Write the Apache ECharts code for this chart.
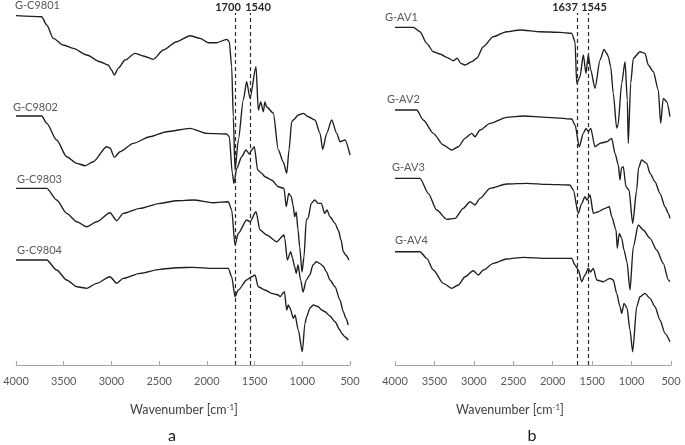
<!DOCTYPE html>
<html>
<head>
<meta charset="utf-8">
<script src="https://cdn.jsdelivr.net/npm/echarts@6/dist/echarts.min.js"></script>
<style>
html,body{margin:0;padding:0;background:#fff;}
#chart{width:685px;height:445px;}
</style>
</head>
<body>
<div id="chart"></div>
<script>
// ---- Data (wavenumber cm-1, relative transmittance incl. vertical offset) ----
const seriesNamesA = ['G-C9801', 'G-C9802', 'G-C9803', 'G-C9804'];
const seriesNamesB = ['G-AV1', 'G-AV2', 'G-AV3', 'G-AV4'];
const xTicks = [4000, 3500, 3000, 2500, 2000, 1500, 1000, 500];
const peakLabelsA = ['1700', '1540'];
const peakPosA = [1703, 1550];
const peakLabelsB = ['1637', '1545'];
const peakPosB = [1695, 1550];

const gC9801 = [[4000,349.3],[3731,348.3],[3678,340],[3609,326.7],[3504,320],[3400,316.7],[3259,310],[3120,303.3],[3033,300],[2999,295],[2970,290],[2928,296.7],[2858,305],[2753,311.7],[2666,309],[2561,305.7],[2456,315],[2316,323.3],[2177,329.3],[2072,326.7],[1985,322.3],[1897,322.3],[1792,325.7],[1765,323.3],[1740,298.3],[1723,248.3],[1705,195],[1670,225],[1618,265],[1583,283.3],[1548,266.7],[1485,298.3],[1461,255],[1436,263],[1408,253.3],[1392,263],[1373,258],[1304,252],[1251,215],[1199,203],[1163,191.7],[1139,215],[1111,243.3],[1094,245],[1042,250],[989,251.7],[937,248.3],[867,245],[814,231.7],[786,215.7],[744,231.7],[692,245],[639,231.7],[605,223.3],[552,225],[500,210]];
const gC9802 = [[4000,249],[3731,249],[3678,241.7],[3574,225],[3469,208.3],[3364,201.7],[3277,199.3],[3190,203.3],[3050,218.3],[3015,217],[2970,207.7],[2910,213.3],[2771,221.7],[2596,228.3],[2421,233.3],[2177,236.7],[2002,231.7],[1792,231],[1765,228.3],[1733,191.7],[1716,181.7],[1687,196.7],[1635,208.3],[1590,215],[1555,211],[1530,215],[1503,218.3],[1467,195],[1425,191.7],[1391,188.3],[1321,185],[1251,178.3],[1192,176.7],[1168,158.3],[1142,171.7],[1115,168.3],[1097,160],[1080,148.3],[1063,153],[1045,135],[1027,118.3],[1003,93],[982,108.3],[958,145],[940,146.7],[906,161.7],[870,165],[835,161.7],[801,161.7],[765,151.7],[741,155],[710,148.3],[657,141.7],[623,135],[594,125],[570,113.3],[545,110],[511,105]];
const gC9803 = [[4000,176.7],[3678,176.7],[3574,165],[3469,151.7],[3364,143.3],[3259,138.3],[3154,143.3],[3015,152.3],[2945,144.3],[2876,151.7],[2701,156.7],[2491,161.7],[2316,164.3],[2142,165],[1932,162.3],[1775,163.3],[1740,155],[1705,120],[1670,131.7],[1583,145],[1548,143.3],[1485,153.3],[1443,135],[1373,130],[1268,123.3],[1192,130],[1184,126.7],[1157,105],[1121,113.3],[1103,107],[1080,98.3],[1063,91.7],[1045,100],[1017,85],[992,73],[958,85],[922,90],[888,100],[853,103.3],[818,101.7],[783,99],[748,93.3],[710,85],[657,78.3],[605,65],[570,53.3],[545,47],[518,40]];
const gC9804 = [[4000,105],[3678,105],[3574,95],[3469,85],[3364,78.3],[3259,76.7],[3154,81.7],[3015,88.3],[2945,81.7],[2876,86.7],[2701,91.7],[2491,95.7],[2316,97.3],[2142,97.7],[1932,96.7],[1775,96.7],[1740,88.3],[1705,68.3],[1670,75],[1583,85],[1530,88.3],[1496,90],[1461,78.3],[1391,75],[1321,71.7],[1251,70],[1233,68.3],[1188,73.3],[1163,55],[1147,60],[1129,57],[1094,46.7],[1076,50],[1042,35],[1000,13.3],[972,41.7],[954,48.3],[919,57],[885,60],[832,58.3],[797,55],[762,53.3],[710,49],[657,43.3],[605,35],[587,31.7],[552,28],[518,25]];

const gAV1 = [[4000,337.7],[3768,337.7],[3683,333.3],[3598,321.7],[3514,313.3],[3429,311],[3344,307.7],[3261,304.3],[3210,306.7],[3167,301.7],[3112,300],[3027,303.3],[2964,306.7],[2880,318.3],[2753,328.3],[2584,333.3],[2415,335],[2161,333.3],[1908,332.7],[1759,331.7],[1717,323.3],[1696,281.7],[1654,288.3],[1612,310],[1578,291.7],[1549,310],[1518,295],[1464,276.7],[1400,305],[1350,315.7],[1318,312],[1295,308.3],[1265,298.3],[1232,271.7],[1189,237],[1172,240],[1125,281.7],[1083,303.3],[1054,265],[1042,221.7],[1011,281.7],[978,306.7],[893,313.3],[830,311.7],[788,300],[724,293.3],[661,275],[631,241.7],[598,266.7],[554,263.3],[513,248.3]];
const gAV2 = [[4000,255],[3725,255],[3641,245],[3514,231.7],[3388,220],[3281,215],[3197,218.3],[3112,226.7],[3027,231.7],[2986,228.3],[2922,235],[2795,241.7],[2584,247.7],[2373,249],[2076,247.7],[1759,246],[1717,240],[1663,218.3],[1612,231.7],[1578,236.7],[1549,233.3],[1518,236.7],[1464,218.3],[1400,221.7],[1315,223.3],[1252,226.7],[1210,211.7],[1168,200],[1147,185],[1128,197],[1105,198.3],[1071,178.3],[1033,175],[986,141.7],[935,175],[912,197],[872,205],[808,201.7],[766,191.7],[703,183.3],[640,171.7],[576,158.3],[534,151.7],[513,146.7]];
const gAV3 = [[4000,186.7],[3683,186.7],[3578,171.7],[3471,155],[3344,145.7],[3239,146.7],[3134,156.7],[3049,163.3],[2986,160],[2922,166.7],[2795,176.7],[2584,181],[2330,181.7],[2076,180.7],[1781,180],[1739,175],[1676,151.7],[1632,161.7],[1591,168.3],[1565,165],[1527,170],[1485,151.7],[1422,153.3],[1337,156.7],[1282,158.3],[1252,148.3],[1197,135],[1181,116.7],[1156,131.7],[1125,126.7],[1096,115],[1058,103],[1020,75],[978,118.3],[915,140],[851,135],[766,126.7],[681,115],[598,101.7],[534,85],[513,83.3]];
const gAV4 = [[4000,113.3],[3683,113.3],[3598,106.7],[3514,95],[3388,81.7],[3281,76.7],[3197,80],[3112,88.3],[3007,94.3],[2944,90],[2880,95],[2753,101.7],[2584,106],[2373,107.7],[2076,106.7],[1759,106.7],[1717,100],[1676,95],[1632,83.3],[1591,90],[1549,96.7],[1521,93],[1485,96.7],[1442,85],[1359,83.3],[1274,86.7],[1232,85],[1189,71.7],[1147,58.3],[1125,51.7],[1096,61.7],[1058,57],[1020,35],[986,13.3],[935,58.3],[893,68.3],[830,71.7],[766,66.7],[703,58.3],[640,45],[576,31.7],[513,23.3]];

const dataA = [gC9801, gC9802, gC9803, gC9804];
const dataB = [gAV1, gAV2, gAV3, gAV4];

// ---- Layout / style ----
const FONT = 'Lato, "Open Sans", sans-serif';
const labelPosA = [[15,7],[13,109],[17,181],[17,252]];
const labelPosB = [[385,19],[387,101],[392,169],[395,242]];
const peakLabelXA = [228, 258];
const peakLabelXB = [565, 594];

function makeXAxis(gridIndex) {
  return {
    gridIndex: gridIndex, type: 'value', inverse: true,
    min: 500, max: 4000, interval: 500,
    axisLine: { show: true, lineStyle: { color: '#a6a6a6', width: 1 } },
    axisTick: { show: true, inside: true, length: 4, lineStyle: { color: '#a6a6a6' } },
    axisLabel: { color: '#595959', fontSize: 11, fontFamily: FONT, margin: 11,
      formatter: v => String(v) },
    splitLine: { show: false }
  };
}
function makeYAxis(gridIndex) {
  return { gridIndex: gridIndex, type: 'value', min: 0, max: 365, show: false, splitLine: { show: false } };
}
function markLines(positions) {
  return {
    silent: true, symbol: 'none', animation: false,
    label: { show: false },
    lineStyle: { color: '#2b2b2b', type: [4, 3], width: 1.2 },
    data: positions.map(p => [{ coord: [p, 0] }, { coord: [p, 352] }])
  };
}

const lineStyle = { color: '#1e1e1e', width: 1.35 };
const series = [];
dataA.forEach((d, i) => {
  const s = { name: seriesNamesA[i], type: 'line', xAxisIndex: 0, yAxisIndex: 0, data: d,
    showSymbol: false, smooth: 0.25, smoothMonotone: 'x', lineStyle: lineStyle, animation: false };
  if (i === 0) s.markLine = markLines(peakPosA);
  series.push(s);
});
dataB.forEach((d, i) => {
  const s = { name: seriesNamesB[i], type: 'line', xAxisIndex: 1, yAxisIndex: 1, data: d,
    showSymbol: false, smooth: 0.25, smoothMonotone: 'x', lineStyle: lineStyle, animation: false };
  if (i === 0) s.markLine = markLines(peakPosB);
  series.push(s);
});

const graphics = [];
seriesNamesA.forEach((n, i) => graphics.push({ type: 'text', left: labelPosA[i][0], top: labelPosA[i][1] - 7,
  style: { text: n, fill: '#595959', font: '11px ' + FONT } }));
seriesNamesB.forEach((n, i) => graphics.push({ type: 'text', left: labelPosB[i][0], top: labelPosB[i][1] - 7,
  style: { text: n, fill: '#595959', font: '11px ' + FONT } }));
peakLabelsA.forEach((t, i) => graphics.push({ type: 'text', x: peakLabelXA[i], y: 7,
  style: { text: t, fill: '#262626', font: 'bold 11px ' + FONT, align: 'center', verticalAlign: 'middle' } }));
peakLabelsB.forEach((t, i) => graphics.push({ type: 'text', x: peakLabelXB[i], y: 7,
  style: { text: t, fill: '#262626', font: 'bold 11px ' + FONT, align: 'center', verticalAlign: 'middle' } }));
[184, 510].forEach(cx => {
  graphics.push({ type: 'text', x: cx, y: 410,
    style: { text: 'Wavenumber [cm{sup|-1}]', rich: { sup: { fontSize: 8, verticalAlign: 'top', padding: [0,0,6,0], fill: '#404040', fontFamily: FONT } },
      fill: '#404040', font: '12.5px ' + FONT, align: 'center', verticalAlign: 'middle' } });
});
graphics.push({ type: 'text', x: 172, y: 436, style: { text: 'a', fill: '#1a1a1a', font: '16px ' + FONT, align: 'center', verticalAlign: 'middle' } });
graphics.push({ type: 'text', x: 532, y: 436, style: { text: 'b', fill: '#1a1a1a', font: '16px ' + FONT, align: 'center', verticalAlign: 'middle' } });

const chart = echarts.init(document.getElementById('chart'), null, { renderer: 'canvas' });
chart.setOption({
  animation: false,
  backgroundColor: '#ffffff',
  grid: [
    { left: 16, top: 0, width: 334, height: 365 },
    { left: 395, top: 0, width: 276, height: 365 }
  ],
  xAxis: [makeXAxis(0), makeXAxis(1)],
  yAxis: [makeYAxis(0), makeYAxis(1)],
  series: series,
  graphic: graphics
});
</script>
</body>
</html>
